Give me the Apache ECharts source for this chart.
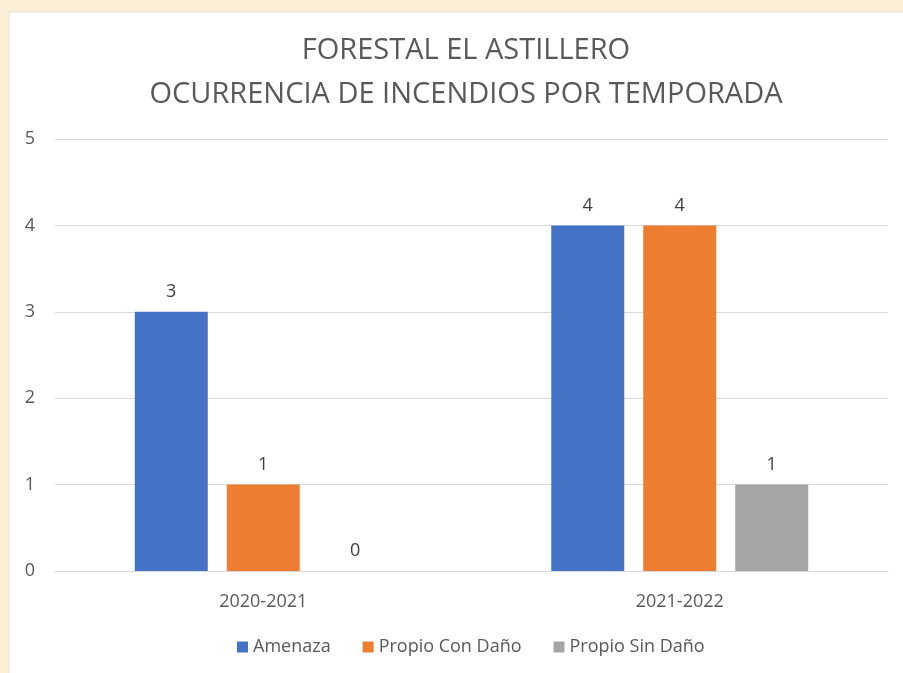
<!DOCTYPE html>
<html><head><meta charset="utf-8">
<script src="https://cdn.jsdelivr.net/npm/echarts@6/dist/echarts.min.js"></script>
<style>html,body{margin:0;padding:0;background:#faeed7;}#c{width:903px;height:673px;}</style>
</head><body><div id="c"></div>
<script>
const categories = ['2020-2021', '2021-2022'];
const seriesNames = ['Amenaza', 'Propio Con Daño', 'Propio Sin Daño'];
const amenaza = [3, 4];
const propioConDano = [1, 4];
const propioSinDano = [0, 1];
const yTicks = [0, 1, 2, 3, 4, 5];
const colors = ['#4472C4', '#ED7D31', '#A5A5A5'];
const FONT = 'Open Sans, Noto Sans, sans-serif';
const chart = echarts.init(document.getElementById('c'));
const lab = {show: true, position: 'top', distance: 11, color: '#404040', fontSize: 18, fontFamily: FONT};
chart.setOption({
  backgroundColor: '#faeed7',
  animation: false,
  graphic: [{type: 'rect', z: -10, shape: {x: 9, y: 12, width: 900, height: 670}, style: {fill: '#ffffff', stroke: '#e6e0d6', lineWidth: 1}}],
  title: {
    text: 'FORESTAL EL ASTILLERO\nOCURRENCIA DE INCENDIOS POR TEMPORADA',
    left: 461, top: 24, textAlign: 'center',
    textStyle: {color: '#595959', fontSize: 29, fontWeight: 'normal', fontFamily: FONT, lineHeight: 44}
  },
  legend: {
    data: seriesNames, bottom: 12, left: 232, itemWidth: 11, itemHeight: 11, itemGap: 32,
    icon: 'rect',
    textStyle: {color: '#595959', fontSize: 18, fontFamily: FONT}
  },
  grid: {left: 55, right: 15, top: 139, bottom: 102},
  xAxis: {
    type: 'category', data: categories,
    axisLine: {lineStyle: {color: '#d9d9d9'}}, axisTick: {show: false},
    axisLabel: {color: '#595959', fontSize: 18, fontFamily: FONT, margin: 22}
  },
  yAxis: {
    type: 'value', min: 0, max: 5, interval: 1,
    axisLine: {show: false}, axisTick: {show: false},
    splitLine: {lineStyle: {color: '#d9d9d9', width: 1}},
    axisLabel: {color: '#595959', fontSize: 18, fontFamily: FONT, margin: 20,
      formatter: v => yTicks.includes(v) ? String(v) : ''}
  },
  series: [
    {name: seriesNames[0], type: 'bar', data: amenaza, barWidth: 73, barGap: '26%', itemStyle: {color: colors[0]}, label: lab},
    {name: seriesNames[1], type: 'bar', data: propioConDano, barWidth: 73, barGap: '26%', itemStyle: {color: colors[1]}, label: lab},
    {name: seriesNames[2], type: 'bar', data: propioSinDano, barWidth: 73, barGap: '26%', itemStyle: {color: colors[2]}, label: lab}
  ]
});
</script></body></html>
